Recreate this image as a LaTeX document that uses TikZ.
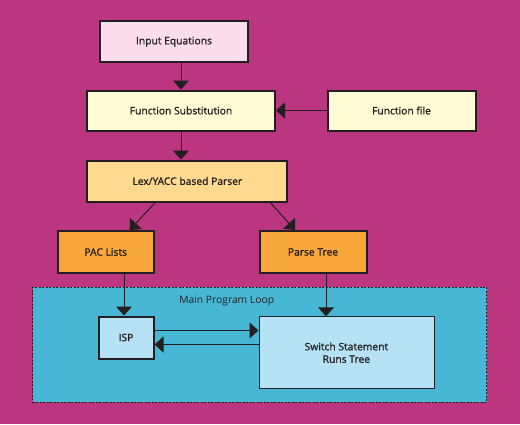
\documentclass[tikz,border=0pt]{standalone}
\usepackage{fontspec}
\setmainfont{Open Sans}
\newfontfamily\boxfont{Open Sans}[FakeBold=1.2]
\usetikzlibrary{arrows.meta}

\definecolor{bgmagenta}{RGB}{187,53,129}
\definecolor{pinkbox}{RGB}{252,221,236}
\definecolor{creambox}{RGB}{255,252,213}
\definecolor{sandbox}{RGB}{255,217,143}
\definecolor{orangebox}{RGB}{248,168,58}
\definecolor{loopblue}{RGB}{72,183,214}
\definecolor{paleblue}{RGB}{181,227,245}
\definecolor{inkdark}{RGB}{35,31,32}

\begin{document}
\begin{tikzpicture}[
        x=1pt, y=-1pt,
        box/.style={rectangle, text centered, draw=inkdark, line width=2pt, inner sep=0pt, text=inkdark, font=\boxfont\fontsize{10.3}{12.5}\selectfont},
        input/.style={box, fill=pinkbox},
        subst/.style={box, fill=creambox},
        parser/.style={box, fill=sandbox},
        output/.style={box, fill=orangebox},
        inner/.style={box, fill=paleblue},
        loopbox/.style={rectangle, draw=inkdark, dash pattern=on 2pt off 1.5pt, line width=1pt, fill=loopblue},
        arrow/.style={line width=1pt, draw=inkdark, -{Triangle[width=16pt,length=9pt]}}
    ]
        \fill[bgmagenta] (0,0) rectangle (520,424);

        \node (loop) [loopbox, minimum width=454pt, minimum height=115pt] at (259.5,344.7) {};
        \node (looplabel) [font=\fontsize{10.3}{12.5}\selectfont, text=inkdark] at (226.7,300.7) {Main Program Loop};

        \node (eqs) [input, minimum width=148pt, minimum height=41pt] at (174,41.8) {Input Equations};
        \node (subst) [subst, minimum width=188pt, minimum height=40pt] at (181,110.5) {Function Substitution};
        \node (ffile) [subst, minimum width=148pt, minimum height=40pt] at (401.5,110.5) {Function file};
        \node (lexer) [parser, minimum width=200pt, minimum height=41pt] at (187.3,181) {Lex/YACC based Parser};
        \node (pac) [output, minimum width=96pt, minimum height=42pt] at (105.7,252) {PAC Lists};
        \node (ptree) [output, minimum width=107pt, minimum height=42pt] at (313,252) {Parse Tree};
        \node (isp) [inner, minimum width=55pt, minimum height=42pt] at (126,337.5) {ISP};
        \node (switch) [inner, line width=0.8pt, align=center, minimum width=175pt, minimum height=72pt] at (346.4,352.7) {Switch Statement\\Runs Tree};

        \draw [arrow] (eqs.south -| subst.north) -- (subst.north);
        \draw [arrow] (ffile) -- (subst);
        \draw [arrow] (subst.south) -- (subst.south |- lexer.north);
        \draw [arrow] ([xshift=-32pt]lexer.south) -- ([xshift=24pt]pac.north);
        \draw [arrow] ([xshift=83pt]lexer.south) -- ([xshift=-18pt]ptree.north);
        \draw [arrow] ([xshift=-2pt]isp.north |- pac.south) -- ([xshift=-2pt]isp.north);
        \draw [arrow] ([xshift=13pt]ptree.south) -- ([xshift=13pt]ptree.south |- switch.north);
        \draw [arrow] ([yshift=7pt]isp.east) -- ([yshift=7pt]isp.east -| switch.west);
        \draw [arrow] ([yshift=-7pt]isp.east -| switch.west) -- ([yshift=-7pt]isp.east);
    \end{tikzpicture}
\end{document}
